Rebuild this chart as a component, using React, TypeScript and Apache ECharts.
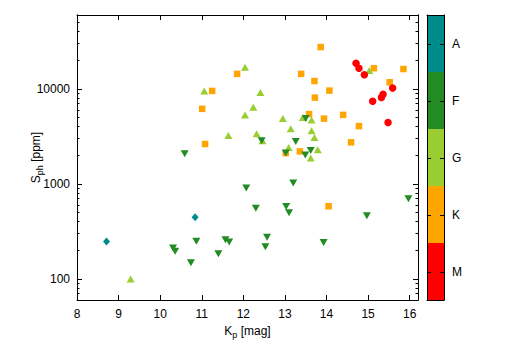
import React, { useEffect, useRef } from "react";
import * as echarts from "echarts";

// Spectral class M
const mKp = [14.71, 14.78, 14.91, 15.11, 15.32, 15.36, 15.59, 15.48];
const mSph = [18600, 16500, 14100, 7430, 8110, 8800, 10200, 4430];
// Spectral class K
const kKp = [13.86, 15.14, 15.85, 15.52, 13.39, 13.71, 14.07, 13.72, 13.58, 14.4, 13.94, 14.78, 14.59, 13.36, 14.05, 11.85, 11.25, 11.01, 11.08, 13.02];
const kSph = [27600, 16500, 16200, 11750, 14400, 12100, 9600, 8100, 5430, 5330, 4870, 4060, 2740, 2200, 582, 14400, 9530, 6170, 2630, 2110];
// Spectral class G
const gKp = [12.04, 11.06, 12.41, 12.24, 12.04, 12.95, 13.43, 13.14, 11.64, 12.32, 12.46, 13.09, 15.03, 13.64, 13.64, 13.71, 13.79, 13.62, 9.29];
const gSph = [16900, 9530, 9150, 6430, 5300, 4880, 5000, 3800, 3240, 3370, 2840, 2420, 15600, 4700, 3630, 3090, 2290, 1880, 100];
// Spectral class F
const fKp = [12.44, 13.26, 13.02, 13.49, 13.62, 13.5, 12.07, 13.2, 12.3, 13.03, 13.1, 12.57, 12.53, 13.93, 14.97, 15.97, 10.59, 10.31, 10.36, 10.87, 10.74, 11.4, 11.57, 11.66];
const fSph = [2850, 2800, 2110, 2020, 2250, 4880, 908, 1025, 555, 578, 497, 275, 218, 242, 461, 697, 2080, 211, 196, 249, 148, 184, 258, 244];
// Spectral class A
const aKp = [8.71, 10.84];
const aSph = [248, 447];

// Colorbar classes (bottom to top)
const classes = ["M", "K", "G", "F", "A"];
const classColors = ["#ff0000", "#ffa500", "#9acd32", "#228b22", "#008b8b"];
const classTicks = [0.5, 1.5, 2.5, 3.5, 4.5];

// Ticks
const xTicks = [8, 9, 10, 11, 12, 13, 14, 15, 16];
const yMajor = [100, 1000, 10000];
const yMinorFactors = [2, 3, 4, 5, 6, 7, 8, 9];
const yDecades = [10, 100, 1000, 10000];

const FONT = "Liberation Sans";

function zip(a: number[], b: number[]) {
  return a.map((v, i) => [v, b[i]]);
}

export default function App() {
  const ref = useRef<HTMLDivElement>(null);
  useEffect(() => {
    if (!ref.current) return;
    document.body.style.margin = "0";
    const chart = echarts.init(ref.current, undefined, { renderer: "svg" });
    const yMinor: number[] = [];
    yDecades.forEach((d) =>
      yMinorFactors.forEach((f) => {
        const v = d * f;
        if (v > 60 && v < 60000) yMinor.push(v);
      })
    );
    const line = { show: true, onZero: false, lineStyle: { color: "#000", width: 1 } };
    const txt = { fontFamily: FONT, fontSize: 12, color: "#000" };
    const logBase = {
      type: "log" as const,
      logBase: 10,
      min: 60,
      max: 60000,
      gridIndex: 0,
      z: 10,
      axisLine: line,
      splitLine: { show: false },
      minorTick: { show: false },
      minorSplitLine: { show: false },
    };
    const xBase = {
      type: "value" as const,
      min: 8,
      max: 16.2,
      gridIndex: 0,
      z: 10,
      axisLine: line,
      splitLine: { show: false },
    };
    const cbY = {
      type: "value" as const,
      gridIndex: 1,
      min: 0,
      max: 5,
      z: 10,
      axisLine: line,
      splitLine: { show: false },
    };
    const cbX = {
      type: "value" as const,
      gridIndex: 1,
      min: 0,
      max: 1,
      z: 10,
      axisLine: line,
      axisTick: { show: false },
      axisLabel: { show: false },
      splitLine: { show: false },
    };
    const scatterSeries = (
      name: string,
      xs: number[],
      ys: number[],
      color: string,
      symbol: string,
      size: any,
      rotate = 0
    ) => ({
      type: "scatter",
      name,
      xAxisIndex: 0,
      yAxisIndex: 0,
      data: zip(xs, ys),
      symbol,
      symbolSize: size,
      symbolRotate: rotate,
      itemStyle: { color, opacity: 1 },
      emphasis: { disabled: true },
    });
    chart.setOption({
      animation: false,
      tooltip: { show: false },
      grid: [
        { left: 77, right: 88, top: 15, bottom: 54 },
        { left: 427, width: 17, top: 15, bottom: 54 },
      ],
      xAxis: [
        {
          ...xBase,
          position: "bottom",
          axisTick: { show: true, inside: true, length: 5, customValues: xTicks, lineStyle: { color: "#000" } },
          axisLabel: { ...txt, margin: 8, customValues: xTicks },
          name: "{m|K}{s|p}{m| [mag]}",
          nameLocation: "middle",
          nameGap: 22,
          nameMoveOverlap: false,
          nameTextStyle: {
            ...txt,
            rich: {
              m: { fontFamily: FONT, fontSize: 12, color: "#000" },
              s: { fontFamily: FONT, fontSize: 9, color: "#000", padding: [8, 0, 0, 0] },
            },
          },
        },
        {
          ...xBase,
          position: "top",
          axisTick: { show: true, inside: true, length: 5, customValues: xTicks, lineStyle: { color: "#000" } },
          axisLabel: { show: false },
        },
        { ...cbX, position: "bottom" },
        { ...cbX, position: "top" },
      ],
      yAxis: [
        {
          ...logBase,
          position: "left",
          axisTick: { show: true, inside: true, length: 5, customValues: yMajor, lineStyle: { color: "#000" } },
          axisLabel: { ...txt, margin: 7, customValues: yMajor, formatter: (v: number) => String(Math.round(v)) },
          name: "{m|S}{s|ph}{m| [ppm]}",
          nameLocation: "middle",
          nameGap: 33,
          nameMoveOverlap: false,
          nameRotate: 90,
          nameTextStyle: {
            ...txt,
            rich: {
              m: { fontFamily: FONT, fontSize: 12, color: "#000" },
              s: { fontFamily: FONT, fontSize: 9, color: "#000", padding: [8, 0, 0, 0] },
            },
          },
        },
        {
          ...logBase,
          position: "left",
          axisTick: { show: true, inside: true, length: 2.5, customValues: yMinor, lineStyle: { color: "#000" } },
          axisLabel: { show: false },
        },
        {
          ...logBase,
          position: "right",
          axisTick: { show: true, inside: true, length: 5, customValues: yMajor, lineStyle: { color: "#000" } },
          axisLabel: { show: false },
        },
        {
          ...logBase,
          position: "right",
          axisTick: { show: true, inside: true, length: 2.5, customValues: yMinor, lineStyle: { color: "#000" } },
          axisLabel: { show: false },
        },
        {
          ...cbY,
          position: "left",
          axisTick: { show: false },
          axisLabel: { show: false },
        },
        {
          ...cbY,
          position: "right",
          axisTick: { show: false },
          axisLabel: {
            ...txt,
            margin: 8,
            customValues: classTicks,
            formatter: (v: number) => classes[Math.floor(v)] ?? "",
          },
        },
      ],
      series: [
        scatterSeries("K", kKp, kSph, classColors[1], "rect", 6.5),
        scatterSeries("G", gKp, gSph, classColors[2], "triangle", [8, 7]),
        scatterSeries("M", mKp, mSph, classColors[0], "circle", 7.5),
        scatterSeries("F", fKp, fSph, classColors[3], "triangle", [8, 7], 180),
        scatterSeries("A", aKp, aSph, classColors[4], "diamond", [7, 8]),
        {
          type: "custom",
          name: "colorbar",
          xAxisIndex: 2,
          yAxisIndex: 4,
          z: 1,
          clip: false,
          data: classes.map((c, i) => [i, i + 1, i + 0.5]),
          renderItem: (params: any, api: any) => {
            const lo = api.coord([0, api.value(0)]);
            const hi = api.coord([1, api.value(1)]);
            const mid = api.coord([0, api.value(2)]);
            const midR = api.coord([1, api.value(2)]);
            const y = Math.round(mid[1]) + 0.5;
            return {
              type: "group",
              children: [
                {
                  type: "rect",
                  shape: { x: lo[0], y: hi[1], width: hi[0] - lo[0], height: lo[1] - hi[1] },
                  style: { fill: classColors[params.dataIndex] },
                  z2: 0,
                },
                {
                  type: "line",
                  shape: { x1: mid[0], y1: y, x2: mid[0] + 4, y2: y },
                  style: { stroke: "#000", lineWidth: 1 },
                  z2: 5,
                },
                {
                  type: "line",
                  shape: { x1: midR[0] - 4, y1: y, x2: midR[0], y2: y },
                  style: { stroke: "#000", lineWidth: 1 },
                  z2: 5,
                },
              ],
            };
          },
          emphasis: { disabled: true },
        },
      ],
    });
    return () => chart.dispose();
  }, []);
  return <div ref={ref} style={{ width: 506, height: 354 }} />;
}
